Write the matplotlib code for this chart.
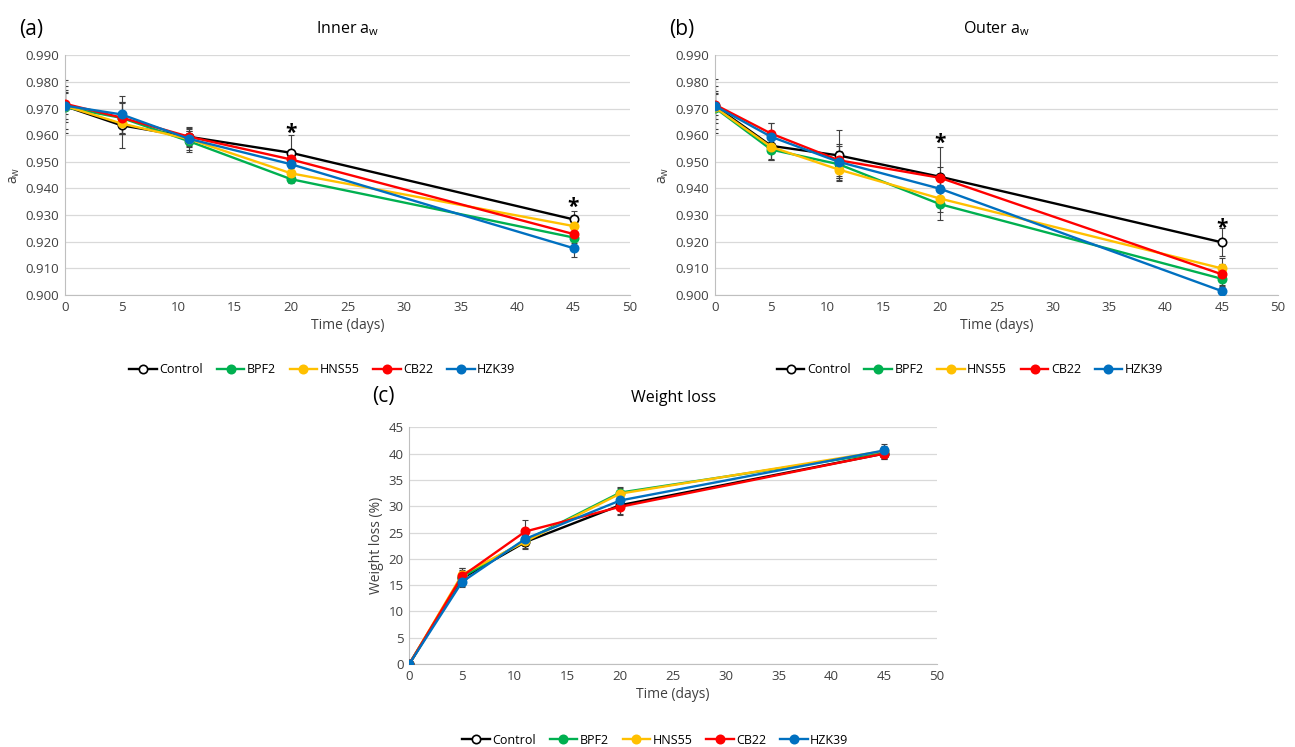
import numpy as np
import matplotlib
matplotlib.use('Agg')
import matplotlib.pyplot as plt

plt.rcParams['font.family'] = ['Open Sans', 'DejaVu Sans']

# --- data ---
days = [0, 5, 11, 20, 45]
groups = ['Control', 'BPF2', 'HNS55', 'CB22', 'HZK39']
colors = ['black', '#00B050', '#FFC000', '#FF0000', '#0070C0']

inner_control = [0.9709, 0.9637, 0.9594, 0.9534, 0.9284]
inner_bpf2 = [0.9705, 0.9665, 0.9577, 0.9435, 0.9216]
inner_hns55 = [0.9710, 0.9644, 0.9585, 0.9457, 0.9259]
inner_cb22 = [0.9718, 0.9666, 0.9594, 0.9509, 0.9229]
inner_hzk39 = [0.9711, 0.9678, 0.9586, 0.9491, 0.9176]
inner_err = [[0.010, 0.0085, 0.003, 0.0068, 0.003],
             [0.008, 0.006, 0.004, 0.0015, 0.002],
             [0.006, 0.004, 0.003, 0.002, 0.002],
             [0.004, 0.006, 0.0035, 0.002, 0.002],
             [0.005, 0.007, 0.004, 0.002, 0.0035]]

outer_control = [0.9710, 0.9560, 0.9524, 0.9444, 0.9198]
outer_bpf2 = [0.9703, 0.9546, 0.9491, 0.9341, 0.9061]
outer_hns55 = [0.9705, 0.9556, 0.9471, 0.9362, 0.9100]
outer_cb22 = [0.9715, 0.9606, 0.9506, 0.9440, 0.9078]
outer_hzk39 = [0.9710, 0.9594, 0.9500, 0.9399, 0.9015]
outer_err = [[0.010, 0.005, 0.0095, 0.011, 0.0052],
             [0.008, 0.004, 0.005, 0.006, 0.003],
             [0.006, 0.005, 0.004, 0.005, 0.004],
             [0.004, 0.004, 0.006, 0.004, 0.004],
             [0.005, 0.005, 0.006, 0.003, 0.002]]

wl_control = [0, 16.3, 23.2, 30.2, 40.0]
wl_bpf2 = [0, 16.5, 23.5, 32.6, 40.2]
wl_hns55 = [0, 17.0, 23.3, 32.4, 40.5]
wl_cb22 = [0, 16.7, 25.2, 29.9, 40.0]
wl_hzk39 = [0, 15.6, 23.8, 31.1, 40.6]
wl_err = [[0, 1.5, 1.4, 1.7, 1.0],
          [0, 1.2, 1.0, 1.0, 0.8],
          [0, 1.3, 1.2, 1.0, 1.0],
          [0, 1.6, 2.1, 1.5, 1.0],
          [0, 1.0, 1.0, 1.0, 1.2]]

inner = [inner_control, inner_bpf2, inner_hns55, inner_cb22, inner_hzk39]
outer = [outer_control, outer_bpf2, outer_hns55, outer_cb22, outer_hzk39]
wloss = [wl_control, wl_bpf2, wl_hns55, wl_cb22, wl_hzk39]

# asterisk positions (day, baseline y)
inner_stars = [(20, 0.9585), (45, 0.9308)]
outer_stars = [(20, 0.9548), (45, 0.9229)]

fig = plt.figure(figsize=(12.95, 7.47), dpi=100, facecolor='white')


def draw_panel(ax, series, errs, ylim, yticks, yfmt, ylabel):
    handles = []
    for vals, err in zip(series, errs):
        ax.errorbar(days, vals, yerr=err, fmt='none', ecolor='#404040',
                    elinewidth=0.8, capsize=2.5, capthick=0.8, zorder=2)
    for i, vals in enumerate(series):
        face = 'white' if i == 0 else colors[i]
        h, = ax.plot(days, vals, color=colors[i], lw=1.7, marker='o',
                     markersize=6, markerfacecolor=face,
                     markeredgecolor=colors[i], markeredgewidth=1.2,
                     label=groups[i], zorder=3 + i)
        handles.append(h)
    ax.set_xlim(0, 50)
    ax.set_xticks(np.arange(0, 51, 5))
    ax.set_ylim(*ylim)
    ax.set_yticks(yticks)
    ax.set_yticklabels([yfmt.format(v) for v in yticks])
    ax.grid(axis='y', color='#d9d9d9', lw=0.9)
    ax.set_axisbelow(True)
    for s in ['top', 'right']:
        ax.spines[s].set_visible(False)
    for s in ['left', 'bottom']:
        ax.spines[s].set_color('#bfbfbf')
    ax.tick_params(length=0, labelsize=9.5, colors='#404040', pad=4)
    ax.set_xlabel('Time (days)', fontsize=10, color='#404040', labelpad=3)
    ax.set_ylabel(ylabel, fontsize=10, color='#404040', labelpad=3)
    return handles


aw_ticks = np.round(np.arange(0.900, 0.9901, 0.010), 3)
leg_kw = dict(loc='center', ncol=5, frameon=False, fontsize=9,
              handlelength=2.2, columnspacing=1.1, handletextpad=0.2)

ax_a = fig.add_axes([0.0502, 0.605, 0.4363, 0.321])
h = draw_panel(ax_a, inner, inner_err, (0.900, 0.990), aw_ticks, '{:.3f}', '$\\mathregular{a_w}$')
ax_a.set_title('Inner $\\mathregular{a_w}$', fontsize=11.5, pad=16)
for x, y in inner_stars:
    ax_a.text(x, y, '*', ha='center', va='baseline', fontsize=15, fontweight='bold')
fig.text(0.015, 0.975, '(a)', fontsize=15, va='top')
fig.legend(handles=h, bbox_to_anchor=(0.249, 0.505), **leg_kw)

ax_b = fig.add_axes([0.552, 0.605, 0.435, 0.321])
h = draw_panel(ax_b, outer, outer_err, (0.900, 0.990), aw_ticks, '{:.3f}', '$\\mathregular{a_w}$')
ax_b.set_title('Outer $\\mathregular{a_w}$', fontsize=11.5, pad=16)
for x, y in outer_stars:
    ax_b.text(x, y, '*', ha='center', va='baseline', fontsize=15, fontweight='bold')
fig.text(0.517, 0.975, '(b)', fontsize=15, va='top')
fig.legend(handles=h, bbox_to_anchor=(0.749, 0.505), **leg_kw)

ax_c = fig.add_axes([0.316, 0.111, 0.4076, 0.317])
h = draw_panel(ax_c, wloss, wl_err, (0, 45), np.arange(0, 46, 5), '{:d}', 'Weight loss (%)')
ax_c.set_title('Weight loss', fontsize=11.5, pad=18)
fig.text(0.287, 0.483, '(c)', fontsize=15, va='top')
fig.legend(handles=h, bbox_to_anchor=(0.506, 0.009), **leg_kw)

plt.savefig('out.png', dpi=100, facecolor='white')
